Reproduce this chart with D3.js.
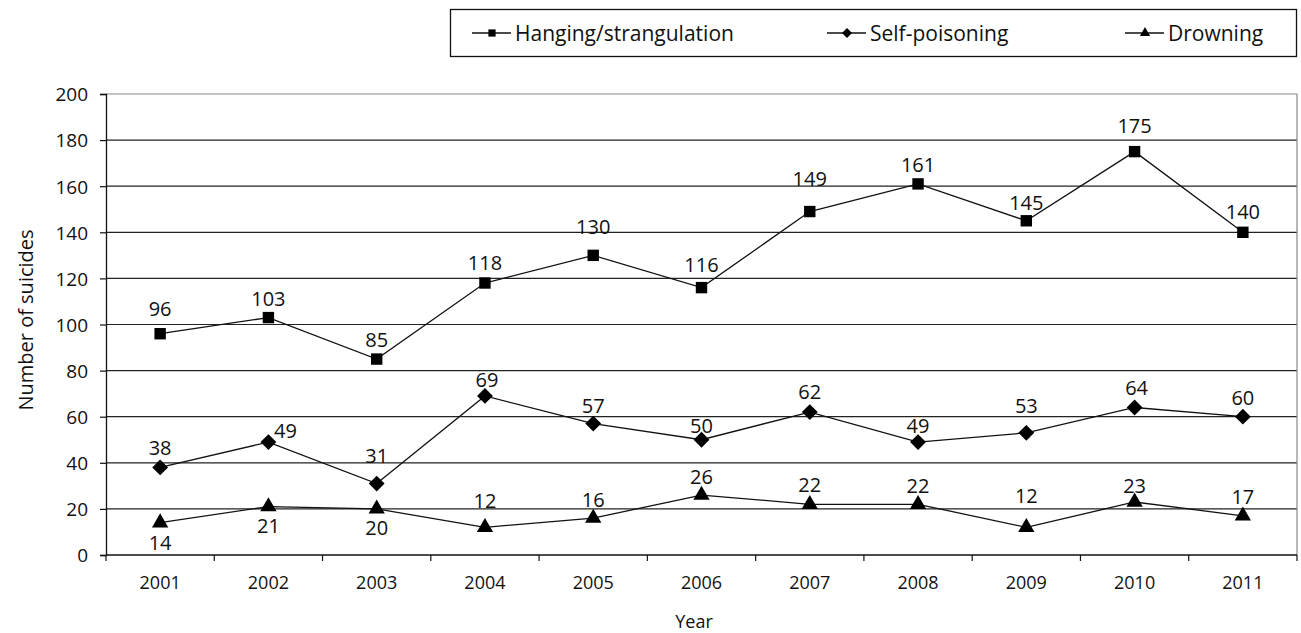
<!DOCTYPE html>
<html>
<head>
<meta charset="utf-8">
<script src="https://cdn.jsdelivr.net/npm/d3@7"></script>
<style>
  body { margin: 0; background: #fff; }
  svg text { font-family: "Open Sans", Lato, sans-serif; fill: #111; }
</style>
</head>
<body>
<div id="chart"></div>
<script>
// data
const years = ["2001", "2002", "2003", "2004", "2005", "2006", "2007", "2008", "2009", "2010", "2011"];
const hanging = [96, 103, 85, 118, 130, 116, 149, 161, 145, 175, 140];
const poisoning = [38, 49, 31, 69, 57, 50, 62, 49, 53, 64, 60];
const drowning = [14, 21, 20, 12, 16, 26, 22, 22, 12, 23, 17];
const yTicks = [0, 20, 40, 60, 80, 100, 120, 140, 160, 180, 200];

// label placement (offset of label centre from marker, px)
const hangingLabelDy = [-25, -19, -19, -20, -29, -23, -33, -19, -18, -26, -21];
const poisoningLabelDy = [-20, -11, -28, -16, -18, -14, -20, -16, -27, -20, -19];
const poisoningLabelDx = [0, 17, 0, 2, 0, 0, 0, 0, 0, 2, 0];
const drowningLabelDy = [20, 19, 19, -27, -18, -18, -19, -18, -32, -16, -19];

// diamond = square turned 45 degrees
const symbolTurnedSquare = {
  draw(context, size) {
    const r = Math.sqrt(size) / Math.SQRT2;
    context.moveTo(0, -r);
    context.lineTo(r, 0);
    context.lineTo(0, r);
    context.lineTo(-r, 0);
    context.closePath();
  }
};

const series = [
  { name: "Hanging/strangulation", values: hanging, symbol: d3.symbolSquare, size: 130, dy: hangingLabelDy },
  { name: "Self-poisoning", values: poisoning, symbol: symbolTurnedSquare, size: 125, dy: poisoningLabelDy, dx: poisoningLabelDx },
  { name: "Drowning", values: drowning, symbol: d3.symbolTriangle, size: 115, dy: drowningLabelDy }
];

const W = 1301, H = 633;
const margin = { top: 94, right: 4, bottom: 78, left: 106 };
const width = W - margin.left - margin.right,
  height = H - margin.top - margin.bottom;

const svg = d3.select("#chart").append("svg")
  .attr("width", W)
  .attr("height", H);

const g = svg.append("g")
  .attr("transform", `translate(${margin.left}, ${margin.top})`);

const x = d3.scaleBand().domain(years).range([0, width]);
const y = d3.scaleLinear().domain([0, 200]).range([height, 0]);

// gridlines
g.selectAll(".grid")
  .data(yTicks.filter(d => d > 0 && d < 200))
  .join("line")
  .attr("x1", 0)
  .attr("x2", width)
  .attr("y1", d => y(d))
  .attr("y2", d => y(d))
  .attr("stroke", "#222")
  .attr("stroke-width", 1.2);

// plot border top/right (gray)
g.append("path")
  .attr("d", `M0,${y(200)}H${width}V${height}`)
  .attr("fill", "none")
  .attr("stroke", "#888")
  .attr("stroke-width", 1.2);

// Y axis
const yAxis = g.append("g")
  .call(d3.axisLeft(y).tickValues(yTicks).tickSize(6).tickPadding(12));
yAxis.select(".domain").attr("stroke", "#111").attr("stroke-width", 1.3);
yAxis.selectAll(".tick line").attr("stroke", "#111").attr("stroke-width", 1.2);
yAxis.selectAll("text")
  .style("font-size", "19px")
  .style("font-family", "'Open Sans', sans-serif")
  .attr("dy", "0.36em");

// X axis, ticks at band boundaries
const xAxis = g.append("g").attr("transform", `translate(0, ${height})`);
xAxis.append("line")
  .attr("x1", 0).attr("x2", width)
  .attr("stroke", "#111").attr("stroke-width", 1.3);
xAxis.selectAll(".xtick")
  .data(years.concat(["end"]))
  .join("line")
  .attr("x1", (d, i) => i * x.bandwidth())
  .attr("x2", (d, i) => i * x.bandwidth())
  .attr("y1", 0).attr("y2", 6)
  .attr("stroke", "#111").attr("stroke-width", 1.2);
xAxis.selectAll(".xlabel")
  .data(years)
  .join("text")
  .attr("x", d => x(d) + x.bandwidth() / 2)
  .attr("y", 34)
  .attr("text-anchor", "middle")
  .style("font-size", "18px")
  .text(d => d);

// axis titles
svg.append("text")
  .attr("x", 694)
  .attr("y", 628)
  .attr("text-anchor", "middle")
  .style("font-size", "18px")
  .text("Year");

svg.append("text")
  .attr("transform", `translate(33, 320) rotate(-90)`)
  .attr("text-anchor", "middle")
  .style("font-size", "20px")
  .text("Number of suicides");

const cx = i => x(years[i]) + x.bandwidth() / 2;

const line = d3.line()
  .x((d, i) => cx(i))
  .y(d => y(d));

series.forEach(function (s) {
  g.append("path")
    .datum(s.values)
    .attr("d", line)
    .attr("fill", "none")
    .attr("stroke", "#111")
    .attr("stroke-width", 1.3);

  g.selectAll(null)
    .data(s.values)
    .join("path")
    .attr("d", d3.symbol().type(s.symbol).size(s.size))
    .attr("transform", (d, i) => `translate(${cx(i)}, ${y(d)})`)
    .attr("fill", "#000");

  // value labels
  g.selectAll(null)
    .data(s.values)
    .join("text")
    .attr("x", (d, i) => cx(i) + (s.dx ? s.dx[i] : 0))
    .attr("y", (d, i) => y(d) + s.dy[i])
    .attr("dy", "0.36em")
    .attr("text-anchor", "middle")
    .style("font-size", "20px")
    .text(d => d);
});

// legend
const legend = svg.append("g");
legend.append("rect")
  .attr("x", 450.5).attr("y", 9.5)
  .attr("width", 846).attr("height", 47)
  .attr("fill", "#fff")
  .attr("stroke", "#111")
  .attr("stroke-width", 1.3);

const legendX = [472, 827, 1125];
series.forEach(function (s, i) {
  const lx = legendX[i], ly = 33;
  legend.append("line")
    .attr("x1", lx).attr("x2", lx + 39)
    .attr("y1", ly).attr("y2", ly)
    .attr("stroke", "#111").attr("stroke-width", 1.3);
  legend.append("path")
    .attr("d", d3.symbol().type(s.symbol).size(s.size * 0.4))
    .attr("transform", `translate(${lx + 20}, ${ly})`)
    .attr("fill", "#000");
  legend.append("text")
    .attr("x", lx + 43)
    .attr("y", ly)
    .attr("dy", "0.36em")
    .style("font-size", "21px")
    .text(s.name);
});
</script>
</body>
</html>
